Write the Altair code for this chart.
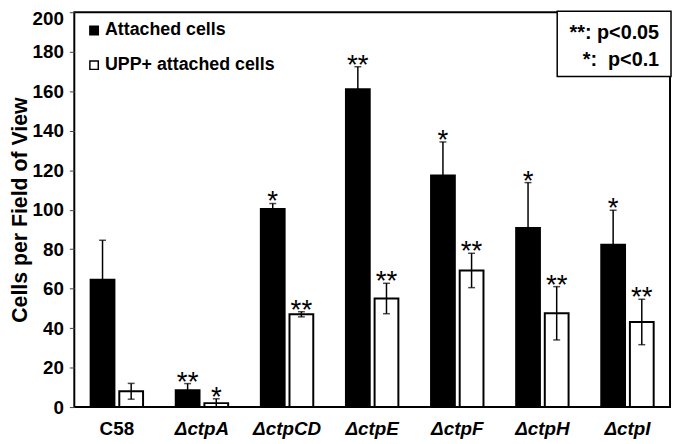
import altair as alt
import pandas as pd

strains = ["C58", "ΔctpA", "ΔctpCD", "ΔctpE", "ΔctpF", "ΔctpH", "ΔctpI"]
series = ["Attached cells", "UPP+ attached cells"]
attached = [64.5, 8.5, 100.3, 161.0, 117.3, 90.7, 82.2]
attached_err = [20.0, 3.4, 2.8, 11.4, 17.0, 23.0, 17.5]
upp = [8.0, 2.0, 47.0, 55.0, 69.2, 47.5, 43.1]
upp_err = [4.0, 2.2, 1.3, 7.7, 8.7, 13.5, 11.5]
attached_sig = ["", "**", "*", "**", "*", "*", "*"]
upp_sig = ["", "*", "**", "**", "**", "**", "**"]
sig_labels = ["**: p<0.05", "*:\u00a0\u00a0p<0.1"]
y_ticks = [0, 20, 40, 60, 80, 100, 120, 140, 160, 180, 200]

rows = []
for i, s in enumerate(strains):
    for ser, vals, errs, sigs in [(series[0], attached, attached_err, attached_sig),
                                   (series[1], upp, upp_err, upp_sig)]:
        v, e = vals[i], errs[i]
        rows.append({"strain": s, "series": ser, "value": v, "lo": max(v - e, 0),
                     "hi": v + e, "sig": sigs[i]})
df = pd.DataFrame(rows)

FONT = "Liberation Sans"

x_enc = alt.X("strain:N", sort=strains,
              scale=alt.Scale(paddingInner=0.384, paddingOuter=0.192),
              axis=alt.Axis(title=None, labelAngle=0, ticks=False, domain=False,
                            labelFont=FONT, labelFontSize=19, labelFontWeight="bold",
                            labelColor="black", labelPadding=13,
                            labelFontStyle={"condition": {"test": "datum.value === 'C58'", "value": "normal"},
                                            "value": "italic"}))
xo_enc = alt.XOffset("series:N", sort=series,
                     scale=alt.Scale(paddingInner=0.17, paddingOuter=0))
y_scale = alt.Scale(domain=[0, 200], nice=False)
y_axis = alt.Axis(title="Cells per Field of View", values=y_ticks, grid=False,
                  domain=False, tickSize=5, tickColor="#444", tickWidth=1,
                  labelOverlap=False, labelFlush=False, labelBound=False,
                  labelFont=FONT, labelFontSize=19, labelFontWeight="bold",
                  labelColor="black", labelPadding=6,
                  labelOffset={"condition": {"test": "datum.value === 200", "value": 6},
                               "value": 0},
                  titleFont=FONT, titleFontSize=21.5, titleFontWeight="bold",
                  titleColor="black", titlePadding=1)

base = alt.Chart(df).encode(x=x_enc, xOffset=xo_enc)

bars = base.mark_bar(stroke="black", strokeWidth=2).encode(
    y=alt.Y("value:Q", scale=y_scale, axis=y_axis),
    color=alt.Color("series:N", sort=series,
                    scale=alt.Scale(domain=series, range=["black", "white"]),
                    legend=alt.Legend(title=None, orient="none", legendX=11, legendY=9.5,
                                      symbolType="square", symbolSize=72,
                                      symbolStrokeColor="black", symbolStrokeWidth=1.5,
                                      labelFont=FONT, labelFontSize=18, labelFontWeight="bold",
                                      labelColor="black", labelOffset=2, rowPadding=17,
                                      padding=0, labelLimit=400)),
)

rules = base.mark_rule(color="black", strokeWidth=1.5).encode(
    y=alt.Y("lo:Q", scale=y_scale, axis=y_axis), y2="hi:Q")
caps_hi = base.mark_tick(color="black", thickness=1.5, size=7).encode(
    y=alt.Y("hi:Q", scale=y_scale, axis=y_axis))
caps_lo = base.mark_tick(color="black", thickness=1.5, size=7).encode(
    y=alt.Y("lo:Q", scale=y_scale, axis=y_axis))

stars = base.transform_filter("datum.sig !== ''").mark_text(
    font=FONT, fontSize=28, baseline="alphabetic", align="center", dy=7, color="black"
).encode(
    y=alt.Y("hi:Q", scale=y_scale, axis=y_axis),
    text="sig:N",
)

note_df = pd.DataFrame({"k": [0]})
note_box = alt.Chart(note_df).mark_rect(fill="white", stroke="black", strokeWidth=1.5).encode(
    x=alt.value(488), x2=alt.value(603), y=alt.value(-1), y2=alt.value(65))
note_text = alt.Chart(note_df).mark_text(
    text=sig_labels, align="right", baseline="alphabetic", font=FONT, fontSize=20,
    fontWeight="bold", lineHeight=27, color="black"
).encode(x=alt.value(591), y=alt.value(27))

chart = alt.layer(bars, rules, caps_hi, caps_lo, stars, note_box, note_text).resolve_scale(
    y="shared"
).properties(
    width=602, height=399,
    autosize=alt.AutoSizeParams(type="none"),
    padding={"left": 67, "top": 2, "right": 2, "bottom": 32},
    background="white",
).configure_view(stroke="black", strokeWidth=2)

chart.save("out.html", embed_options={"renderer": "svg", "actions": False})
